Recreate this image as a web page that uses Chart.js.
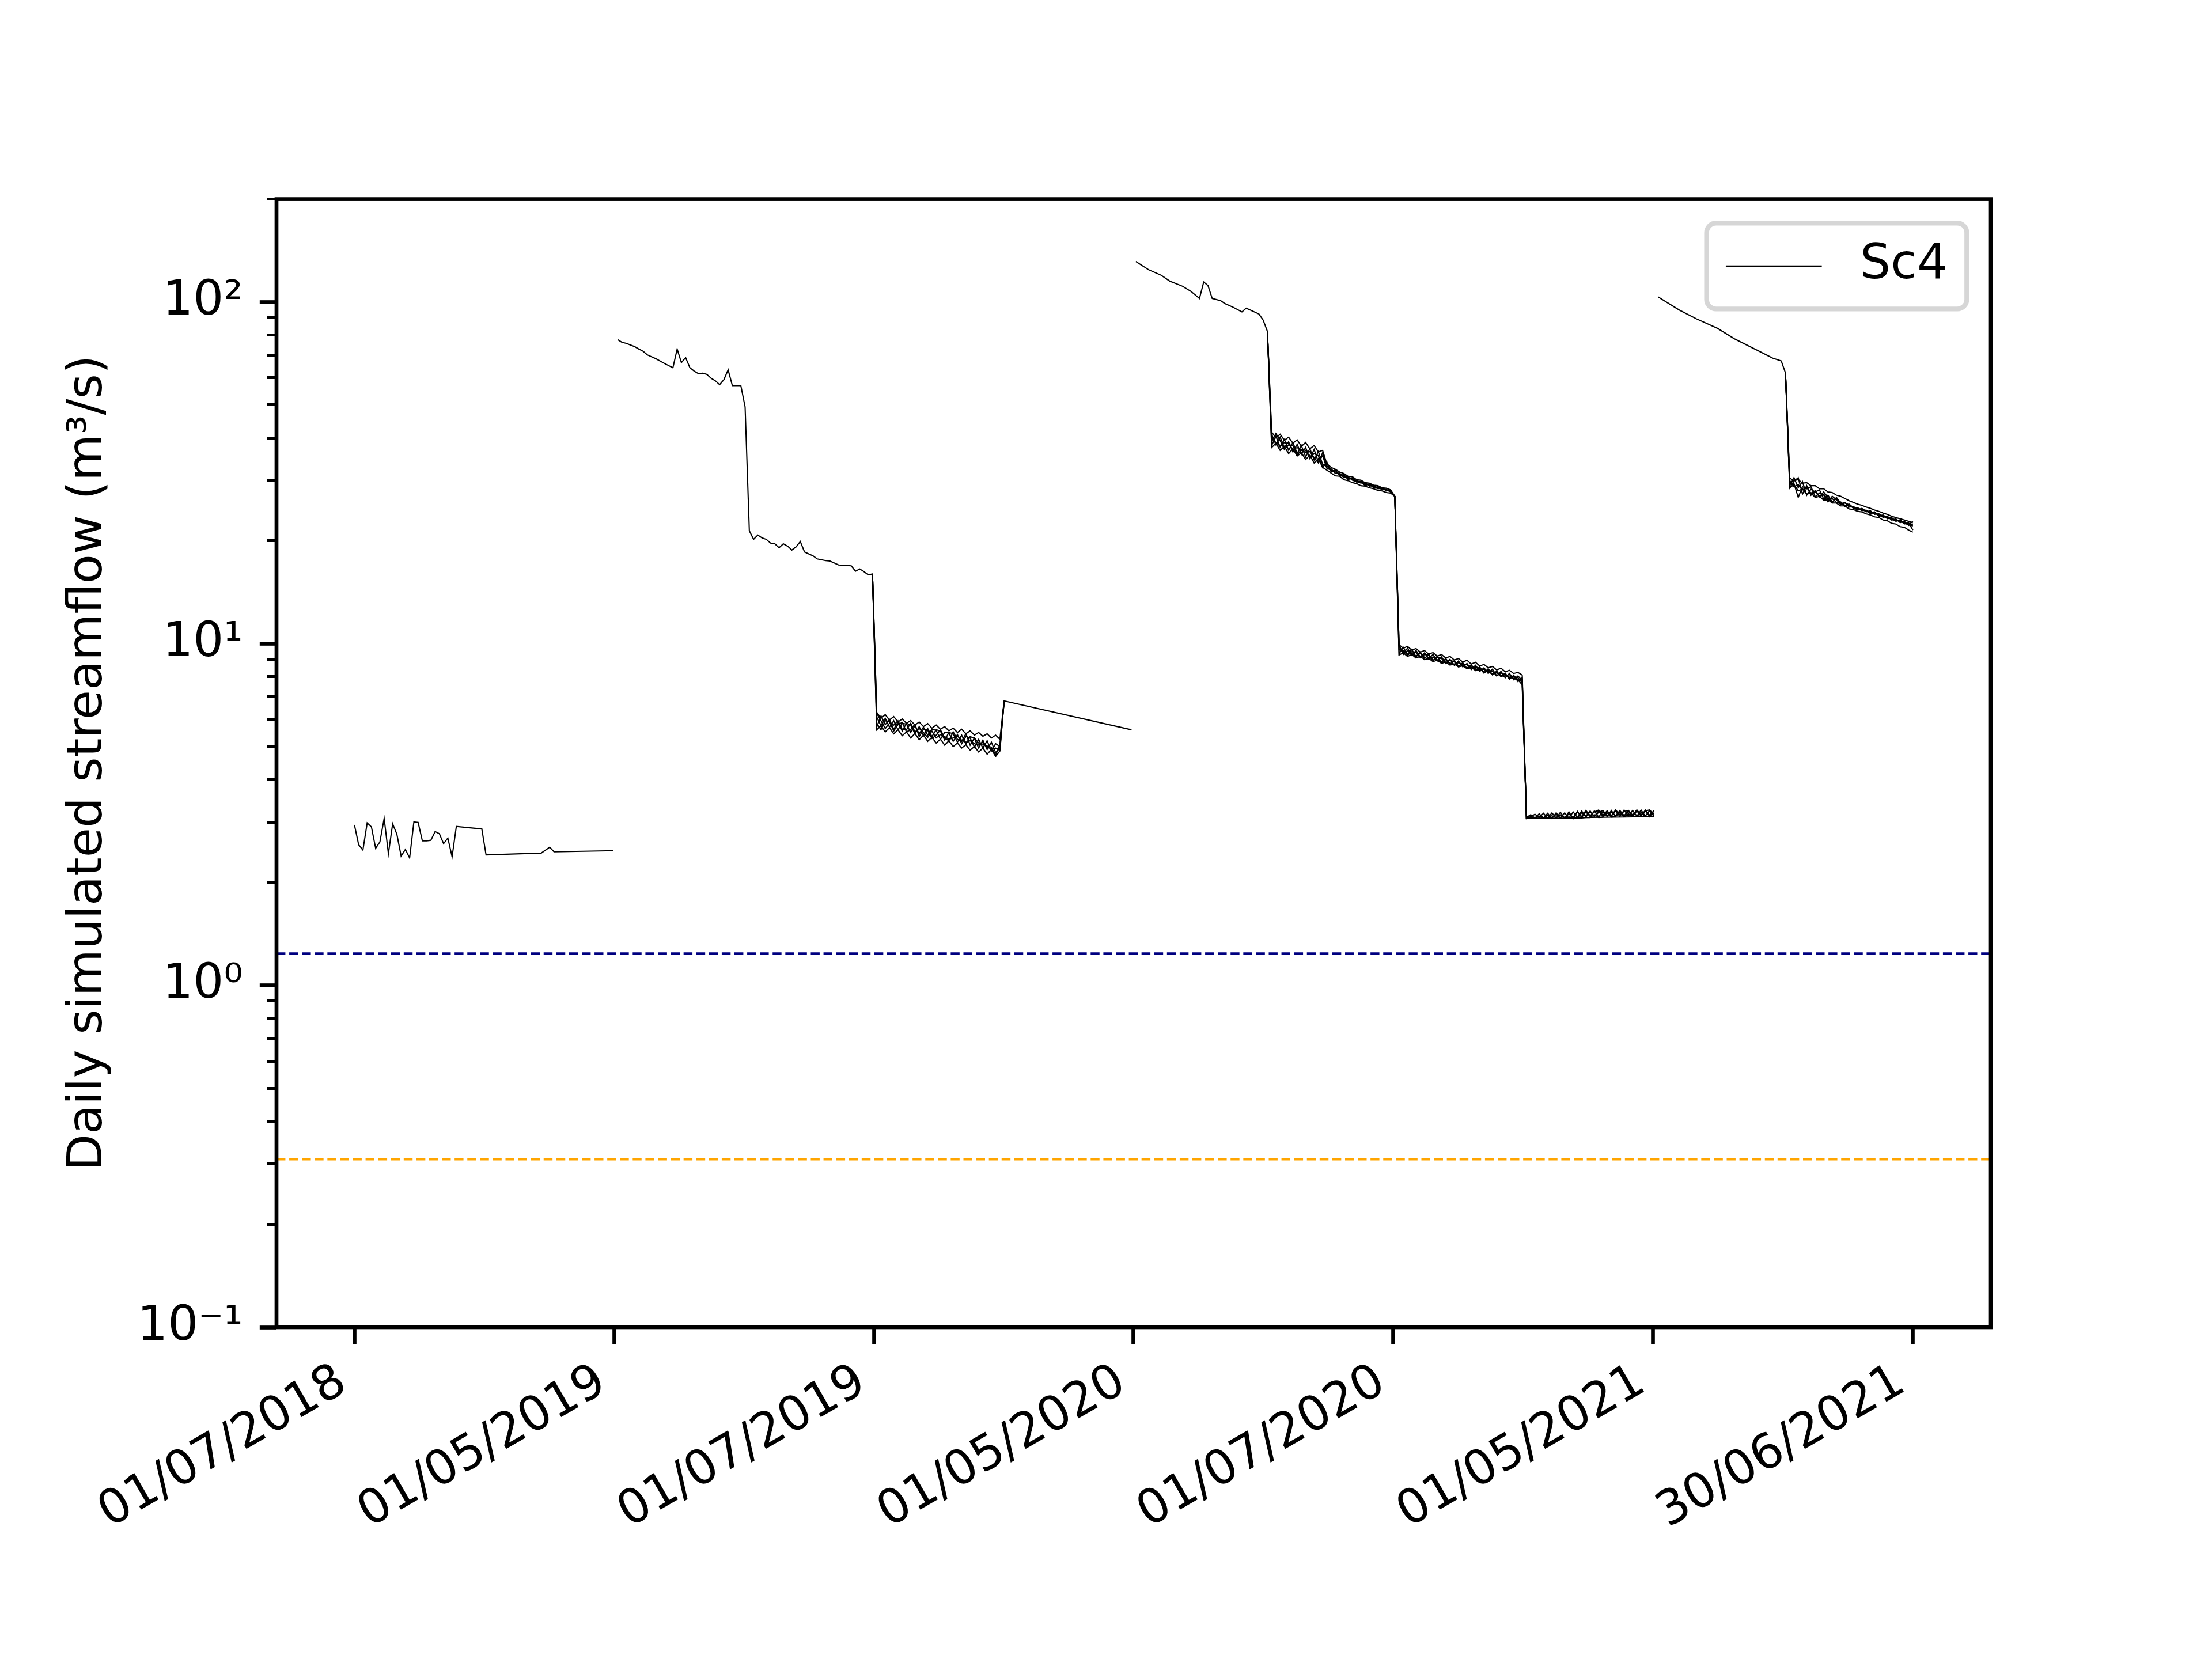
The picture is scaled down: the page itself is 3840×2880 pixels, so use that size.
<!DOCTYPE html>
<html>
<head>
<meta charset="utf-8">
<script src="https://cdn.jsdelivr.net/npm/chart.js@4.4.1/dist/chart.umd.min.js"></script>
<style>
  html, body { margin: 0; padding: 0; background: #fff; }
  #wrap { width: 3840px; height: 2880px; }
</style>
</head>
<body>
<div id="wrap"><canvas id="flowChart" width="3840" height="2880"></canvas></div>
<script>
// x axis = day index of the concatenated simulation runs
const tickDays = [0, 61.17, 122.33, 183.5, 244.67, 305.83, 367];
const tickLabels = ['01/07/2018', '01/05/2019', '01/07/2019', '01/05/2020', '01/07/2020', '01/05/2021', '30/06/2021'];
const yTickValues = [0.1, 1, 10, 100];
const yTickLabels = ['10\u207B\u00B9', '10\u2070', '10\u00B9', '10\u00B2'];

const thresholdHigh = 1.24;   // navy dashed
const thresholdLow = 0.31;    // orange dashed

// Sc4 main run, [day, m3/s]
const sc4Year1 = [[0,2.95],[1,2.58],[2,2.49],[3,2.99],[4,2.91],[5,2.52],[6,2.63],[7,3.08],[8,2.43],[9,2.97],[10,2.77],[11,2.39],[12,2.50],[13,2.36],[14,3.01],[15,3.00],[16,2.65],[17,2.65],[18,2.66],[19,2.82],[20,2.78],[21,2.60],[22,2.70],[23,2.38],[24,2.92],[30,2.87],[31,2.41],[44,2.44],[46,2.54],[47,2.46],[61,2.48]];
const sc4Year2 = [[62,77.6],[63,76.2],[64,75.7],[66,74.0],[67,72.8],[68,71.7],[69,70.0],[71,68.2],[73,66.1],[75,64.2],[76,72.8],[77,66.5],[78,68.7],[79,64.2],[80,62.8],[81,61.7],[82,61.9],[83,61.4],[84,59.8],[85,58.8],[86,57.3],[87,59.2],[88,63.3],[89,56.9],[91,56.9],[92,49.3],
  [93,21.4],[94,20.2],[95,20.8],[96,20.4],[97,20.2],[98,19.7],[99,19.6],[100,19.1],[101,19.6],[102,19.3],[103,18.8],[104,19.2],[105,19.9],[106,18.55],[108,18.07],[109,17.7],[111,17.5],[112,17.45],[114,17.0],[117,16.9],[118,16.3],[119,16.55],[120,16.25],[121,15.9],[122,16.0],
  [123,6.10],[124,5.75],[125,6.05],[126,5.70],[127,5.95],[128,5.60],[129,5.85],[130,5.82],[131,5.50],[132,5.75],[133,5.45],[134,5.70],[135,5.40],[136,5.62],[137,5.58],[138,5.25],[139,5.50],[140,5.48],[141,5.18],[142,5.42],[143,5.10],[144,5.35],[145,5.30],[146,4.98],[147,5.25],[148,4.95],[149,5.20],[150,4.85],[151,5.10],[152,5.00],
  [153,6.80],[183,5.60]];
const sc4Year3 = [[184,131.4],[187,124.3],[190,119.7],[192,115.1],[195,111.2],[197,107.4],[199,102.4],[200,114.4],[201,111.7],[202,102.4],[204,100.9],[205,98.9],[207,96.4],[209,93.5],[210,95.9],[213,92.2],[214,88.5],[215,82.0],
  [216,41.0],[217,38.2],[218,40.2],[219,37.5],[220,39.0],[221,36.4],[222,38.3],[223,35.8],[224,37.5],[225,34.8],[226,37.0],[227,34.0],[228,35.5],[229,32.6],[231,31.8],[233,30.9],[236,30.0],[238,29.4],[241,28.6],[244,28.0],[245,27.0],
  [246,9.85],[247,9.40],[248,9.70],[249,9.25],[250,9.55],[251,9.15],[252,9.40],[253,9.05],[254,9.30],[255,8.90],[256,9.15],[257,8.78],[258,9.00],[259,8.65],[260,8.90],[261,8.55],[262,8.75],[263,8.40],[264,8.65],[265,8.30],[266,8.50],[267,8.18],[268,8.42],[269,8.05],[270,8.30],[271,7.95],[272,8.18],[273,7.85],[274,8.05],[275,7.80],
  [276,3.08],[288,3.08],[289,3.10],[306,3.12]];
const sc4Year4 = [[307,103.5],[312,94.7],[316,89.3],[321,83.7],[325,78.0],[330,72.6],[334,68.5],[336,67.2],[337,62.0],
  [338,30.0],[339,28.8],[340,29.2],[341,28.2],[342,28.6],[343,27.6],[344,28.0],[345,27.0],[346,27.4],[347,26.4],[348,26.6],[349,25.9],[350,26.0],[351,25.4],[352,25.3],[355,24.7],[358,24.1],[361,23.4],[364,22.8],[367,22.1]];

// other ensemble members, daily values from the first day of each piece
const memberStarts = [122, 215, 337];
const member1 = [
  [16.0, 5.70,6.15,5.80,6.00,5.62,5.90,5.55,5.85,5.78,5.45, 5.72,5.38,5.65,5.35,5.60,5.55,5.22,5.50,5.45,5.15, 5.40,5.08,5.35,5.28,4.95,5.22,4.90,5.15,4.80,4.95, 6.80],
  [82.0, 38.0,40.5,37.6,39.6,36.8,38.8,36.0,38.0,35.2,37.2, 34.5,36.5,33.5,33.0,32.5,31.5,31.6,30.6,30.8,30.1, 29.8,29.9,29.2,29.3,28.6,28.8,28.2,28.3,27.8, 27.0,
   9.35,9.75,9.30,9.62,9.15,9.45,9.05,9.32,8.92,9.20, 8.80,9.05,8.70,8.92,8.58,8.80,8.45,8.68,8.35,8.55, 8.22,8.45,8.10,8.32,8.00,8.20,7.88,8.08,7.75,7.95,
   3.10,3.16,3.09,3.18,3.09,3.19,3.08,3.20,3.08,3.08, 3.22,3.08,3.23,3.10,3.22,3.12,3.24,3.11,3.23,3.12, 3.25,3.12,3.24,3.13,3.25,3.12,3.24,3.13,3.26,3.12, 3.25],
  [62.0, 29.0,30.6,28.6,29.8,27.2,28.3,27.8,28.2,26.5,27.2, 26.0,26.6,25.6,25.9,25.1,25.2,24.7,24.8,24.3,24.5, 23.9,24.0,23.4,23.6,23.0,23.2,22.6,22.8,22.2,22.4]
];
const member2 = [
  [16.0, 5.85,5.60,5.95,5.92,5.55,5.80,5.88,5.52,5.60,5.82, 5.35,5.62,5.58,5.28,5.40,5.60,5.30,5.20,5.52,5.25, 5.18,5.45,5.05,5.30,5.12,5.08,5.02,4.98,4.72,5.05, 6.80],
  [82.0, 40.0,38.8,37.8,38.8,38.5,37.0,37.5,36.8,36.3,36.5, 35.0,33.8,36.2,33.2,32.0,32.1,31.2,31.1,30.4,30.5, 29.9,29.5,29.6,28.9,29.0,28.5,28.6,28.0,28.1, 27.0,
   9.60,9.55,9.25,9.48,9.42,9.10,9.30,9.25,8.95,9.12, 9.05,8.75,8.95,8.85,8.60,8.72,8.68,8.42,8.55,8.48, 8.20,8.38,8.30,8.05,8.20,8.12,7.90,8.02,7.95,7.70,
   3.08,3.12,3.17,3.10,3.19,3.09,3.20,3.09,3.21,3.09, 3.09,3.22,3.10,3.24,3.11,3.23,3.12,3.25,3.12,3.24, 3.13,3.25,3.12,3.26,3.13,3.25,3.13,3.26,3.13,3.25, 3.13],
  [62.0, 29.6,29.4,26.8,28.8,28.4,28.8,26.9,27.6,27.2,26.0, 27.0,26.4,25.5,25.8,25.5,24.9,25.0,24.5,24.6,24.0, 24.2,23.7,23.8,23.2,23.4,22.8,23.0,22.4,22.6,21.5]
];
const member3 = [
  [16.0, 6.25,5.95,5.65,5.85,5.78,5.95,5.62,5.60,5.85,5.52, 5.65,5.50,5.32,5.55,5.30,5.42,5.35,5.25,5.30,5.38, 5.22,5.15,5.20,5.10,5.05,5.15,4.98,4.92,4.95,4.88, 6.80],
  [82.0, 39.0,41.2,39.3,37.0,38.2,38.0,35.6,37.0,36.8,35.0, 36.0,35.5,32.8,34.0,31.8,32.3,31.0,31.3,30.2,30.6, 29.7,29.8,29.0,29.4,28.8,28.4,28.5,28.1,27.9, 27.0,
   9.90,9.30,9.55,9.35,9.20,9.38,9.12,9.00,9.15,8.98, 8.85,8.98,8.78,8.68,8.80,8.62,8.50,8.60,8.45,8.35, 8.42,8.25,8.15,8.25,8.08,7.98,8.05,7.92,7.82,7.88,
   3.09,3.11,3.09,3.12,3.09,3.09,3.14,3.09,3.16,3.09, 3.18,3.09,3.09,3.20,3.13,3.24,3.12,3.21,3.25,3.13, 3.22,3.14,3.25,3.14,3.23,3.15,3.26,3.14,3.24,3.15, 3.24],
  [62.0, 28.6,29.9,30.6,27.4,29.0,27.2,27.9,26.9,27.8,26.8, 25.8,26.8,25.8,25.2,25.6,25.0,24.6,24.9,24.4,24.2, 24.3,23.6,23.7,23.5,23.1,22.9,23.0,22.5,22.3,22.8]
];
const member4 = [
  [16.0, 6.30,6.05,6.20,5.98,6.12,5.90,6.02,5.85,5.96,5.78, 5.90,5.72,5.84,5.66,5.78,5.62,5.72,5.56,5.66,5.50, 5.62,5.45,5.56,5.40,5.50,5.36,5.45,5.30,5.40,5.25, 6.80],
  [82.0, 41.6,40.0,41.0,39.4,40.2,38.6,39.5,37.8,38.8,37.2, 38.0,36.4,36.8,33.6,32.8,32.4,31.8,31.5,30.9,30.8, 30.2,30.1,29.6,29.5,29.1,29.0,28.6,28.5,28.2, 27.0,
   9.93,9.70,9.82,9.58,9.68,9.45,9.55,9.32,9.42,9.20, 9.30,9.08,9.18,8.96,9.05,8.84,8.94,8.72,8.82,8.60, 8.70,8.50,8.58,8.38,8.48,8.28,8.36,8.18,8.24,8.10,
   3.08,3.10,3.09,3.13,3.09,3.15,3.09,3.17,3.09,3.20, 3.09,3.10,3.22,3.12,3.25,3.14,3.22,3.26,3.15,3.24, 3.14,3.26,3.16,3.23,3.25,3.15,3.26,3.16,3.24,3.26, 3.17],
  [62.0, 30.5,30.0,30.2,29.5,29.6,29.0,29.0,28.4,28.4,27.8, 27.7,27.2,27.0,26.6,26.2,25.9,25.6,25.4,25.1,24.9, 24.6,24.4,24.1,23.9,23.6,23.4,23.2,23.0,22.8,22.6]
];
const member5 = [
  [16.0, 5.60,5.75,5.52,5.68,5.45,5.60,5.38,5.52,5.30,5.46, 5.24,5.40,5.18,5.32,5.12,5.26,5.05,5.20,5.00,5.12, 4.95,5.06,4.88,5.00,4.82,4.95,4.75,4.90,4.68,4.85, 6.80],
  [82.0, 37.5,38.6,36.8,37.8,36.0,37.2,35.4,36.2,34.6,35.6, 33.8,34.8,32.8,32.2,31.6,31.0,30.9,30.2,30.0,29.6, 29.4,29.0,28.9,28.6,28.4,28.1,28.0,27.7,27.6, 27.0,
   9.27,9.40,9.18,9.30,9.08,9.18,8.98,9.06,8.86,8.95, 8.76,8.84,8.66,8.72,8.55,8.62,8.45,8.52,8.35,8.42, 8.26,8.32,8.16,8.22,8.06,8.12,7.96,8.02,7.85,7.58,
   3.08,3.08,3.08,3.09,3.08,3.10,3.08,3.08,3.09,3.08, 3.09,3.09,3.10,3.09,3.10,3.10,3.16,3.10,3.11,3.20, 3.11,3.12,3.22,3.11,3.18,3.12,3.12,3.21,3.12,3.13, 3.20],
  [62.0, 28.6,29.2,28.0,28.4,27.4,27.6,26.8,27.0,26.3,26.4, 25.8,25.8,25.3,25.3,24.8,24.7,24.4,24.3,24.0,23.8, 23.5,23.4,23.0,22.9,22.5,22.4,22.0,21.9,21.5,21.2]
];

const xMin = -18.35, xMax = 385.35;
const yMin = 0.1, yMax = 200;

// build Chart.js point lists (null y = gap, like NaN in the original)
function joinPieces(pieces) {
  const pts = [];
  pieces.forEach((p, i) => {
    if (i > 0) pts.push({ x: p[0][0] - 0.5, y: null });
    p.forEach(d => pts.push({ x: d[0], y: d[1] }));
  });
  return pts;
}
function memberPoints(member) {
  return joinPieces(member.map((vals, i) => vals.map((v, j) => [memberStarts[i] + j, v])));
}

const PT = 600 / 72;           // one point in pixels at 600 dpi
const FONT = 10 * PT;
Chart.defaults.font.family = 'DejaVu Sans';
Chart.defaults.font.size = FONT;
Chart.defaults.color = '#000';

const lineStyle = { borderColor: '#000', borderWidth: 2.1, pointRadius: 0, tension: 0, spanGaps: false, fill: false };

const frameAndLegend = {
  id: 'frameAndLegend',
  afterDraw(chart) {
    const { ctx, chartArea: a } = chart;
    ctx.save();
    ctx.strokeStyle = '#000';
    ctx.lineWidth = 0.8 * PT;
    ctx.strokeRect(a.left, a.top, a.right - a.left, a.bottom - a.top);

    // legend box, upper right (matplotlib default spacing)
    const label = chart.data.datasets[0].label;
    ctx.font = FONT + 'px "DejaVu Sans"';
    const tw = ctx.measureText(label).width;
    const pad = 0.4 * FONT, hl = 2.0 * FONT, hp = 0.8 * FONT;
    const w = 2 * pad + hl + hp + tw;
    const h = 2 * pad + 0.99 * FONT;
    const x0 = a.right - 0.5 * FONT - w;
    const y0 = a.top + 0.5 * FONT;
    const r = 0.2 * FONT;
    ctx.beginPath();
    ctx.roundRect(x0, y0, w, h, r);
    ctx.fillStyle = 'rgba(255,255,255,0.8)';
    ctx.fill();
    ctx.lineWidth = 1.0 * PT;
    ctx.strokeStyle = 'rgba(204,204,204,0.8)';
    ctx.stroke();
    const cy = y0 + h / 2;
    ctx.beginPath();
    ctx.moveTo(x0 + pad, cy);
    ctx.lineTo(x0 + pad + hl, cy);
    ctx.strokeStyle = '#000';
    ctx.lineWidth = 2.1;
    ctx.stroke();
    ctx.fillStyle = '#000';
    ctx.textBaseline = 'middle';
    ctx.textAlign = 'left';
    ctx.fillText(label, x0 + pad + hl + hp, cy);
    ctx.restore();
  }
};

const minorTicks = [];
[0.1, 1, 10, 100].forEach(dec => { for (let m = 2; m <= 9; m++) if (dec * m <= yMax) minorTicks.push(dec * m); });

new Chart(document.getElementById('flowChart').getContext('2d'), {
  type: 'line',
  data: {
    datasets: [
      Object.assign({ label: 'Sc4', data: joinPieces([sc4Year1, sc4Year2, sc4Year3, sc4Year4]) }, lineStyle),
      Object.assign({ label: '', data: memberPoints(member1) }, lineStyle),
      Object.assign({ label: '', data: memberPoints(member2) }, lineStyle),
      Object.assign({ label: '', data: memberPoints(member3) }, lineStyle),
      Object.assign({ label: '', data: memberPoints(member4) }, lineStyle),
      Object.assign({ label: '', data: memberPoints(member5) }, lineStyle),
      { label: '', data: [{ x: xMin, y: thresholdHigh }, { x: xMax, y: thresholdHigh }], borderColor: '#000080', borderWidth: 0.5 * PT, borderDash: [1.85 * PT, 0.8 * PT], pointRadius: 0 },
      { label: '', data: [{ x: xMin, y: thresholdLow }, { x: xMax, y: thresholdLow }], borderColor: '#FFA500', borderWidth: 0.5 * PT, borderDash: [1.85 * PT, 0.8 * PT], pointRadius: 0 }
    ]
  },
  options: {
    responsive: false,
    devicePixelRatio: 1,
    animation: false,
    events: [],
    layout: { padding: { left: 0, right: 384, top: 345.6, bottom: 0 } },
    plugins: { legend: { display: false }, tooltip: { enabled: false } },
    scales: {
      x: {
        type: 'linear',
        min: xMin,
        max: xMax,
        afterBuildTicks: s => { s.ticks = tickDays.map(v => ({ value: v })); },
        afterFit: s => { s.height = 576; },
        ticks: {
          autoSkip: false,
          minRotation: 30,
          maxRotation: 30,
          padding: 17,
          labelOffset: -20,
          callback: (v, i) => tickLabels[i]
        },
        grid: { drawOnChartArea: false, drawTicks: true, tickLength: 3.5 * PT, tickWidth: 0.8 * PT, tickColor: '#000' },
        border: { display: false }
      },
      y: {
        type: 'logarithmic',
        position: 'left',
        weight: 1,
        min: yMin,
        max: yMax,
        afterBuildTicks: s => { s.ticks = yTickValues.map(v => ({ value: v, major: true })); },
        afterFit: s => { s.width = 480; },
        ticks: {
          padding: 3.5 * PT,
          callback: v => yTickLabels[yTickValues.indexOf(v)]
        },
        grid: { drawOnChartArea: false, drawTicks: true, tickLength: 3.5 * PT, tickWidth: 0.8 * PT, tickColor: '#000' },
        border: { display: false },
        title: {
          display: true,
          text: 'Daily simulated streamflow (m\u00B3/s)',
          font: { size: FONT },
          padding: { top: 104, bottom: 0 }
        }
      },
      yMinor: {
        type: 'logarithmic',
        position: 'left',
        weight: 0,
        min: yMin,
        max: yMax,
        afterBuildTicks: s => { s.ticks = minorTicks.map(v => ({ value: v })); },
        afterFit: s => { s.width = 0; },
        ticks: { display: false },
        grid: { drawOnChartArea: false, drawTicks: true, tickLength: 2 * PT, tickWidth: 0.6 * PT, tickColor: '#000' },
        border: { display: false }
      }
    }
  },
  plugins: [frameAndLegend]
});
</script>
</body>
</html>
